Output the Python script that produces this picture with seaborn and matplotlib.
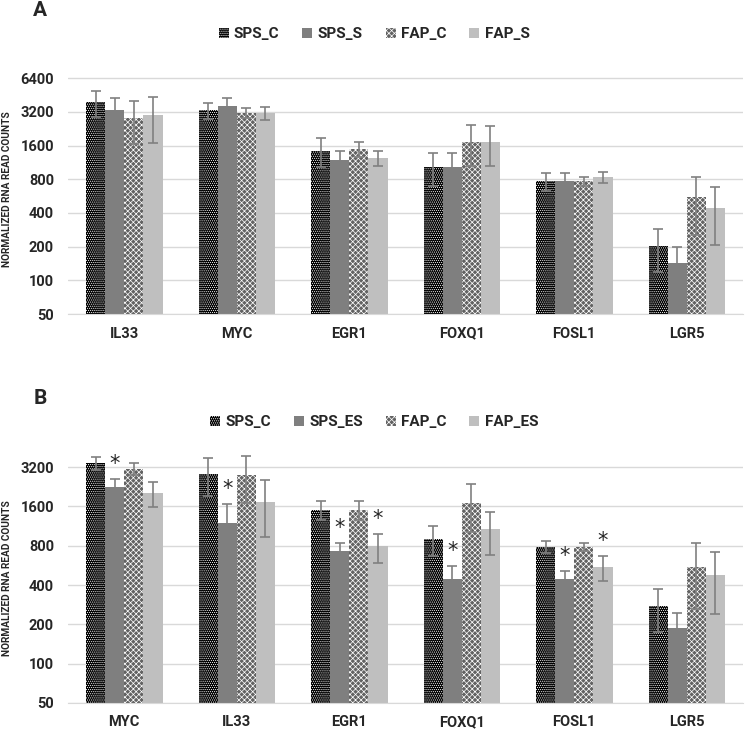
import numpy as np
import pandas as pd
import seaborn as sns
import matplotlib
matplotlib.use('Agg')
from matplotlib import pyplot as plt
from matplotlib.patches import Patch
from matplotlib.ticker import FixedLocator, FixedFormatter, NullLocator

# panel A data
genes_a = ['IL33', 'MYC', 'EGR1', 'FOXQ1', 'FOSL1', 'LGR5']
groups_a = ['SPS_C', 'SPS_S', 'FAP_C', 'FAP_S']
sps_c_a = [3900, 3330, 1440, 1040, 770, 204]
sps_c_a_err = [1030, 540, 415, 345, 145, 86]
sps_s_a = [3330, 3620, 1200, 1020, 770, 142]
sps_s_a_err = [920, 630, 220, 350, 145, 58]
fap_c_a = [2840, 3135, 1505, 1740, 770, 550]
fap_c_a_err = [1180, 330, 235, 680, 75, 295]
fap_s_a = [3010, 3135, 1250, 1720, 830, 446]
fap_s_a_err = [1310, 440, 190, 660, 90, 240]
ticks_a = [50, 100, 200, 400, 800, 1600, 3200, 6400]

# panel B data
genes_b = ['MYC', 'IL33', 'EGR1', 'FOXQ1', 'FOSL1', 'LGR5']
groups_b = ['SPS_C', 'SPS_ES', 'FAP_C', 'FAP_ES']
sps_c_b = [3430, 2840, 1500, 900, 783, 275]
sps_c_b_err = [390, 920, 250, 230, 85, 100]
sps_es_b = [2250, 1190, 726, 445, 445, 188]
sps_es_b_err = [350, 480, 115, 115, 65, 57]
fap_c_b = [3110, 2790, 1500, 1690, 783, 550]
fap_c_b_err = [320, 1100, 250, 680, 60, 290]
fap_es_b = [2020, 1730, 790, 1070, 550, 475]
fap_es_b_err = [430, 800, 200, 390, 120, 235]
star_sps_es = [1, 1, 1, 1, 1, 0]
star_fap_es = [0, 0, 1, 0, 1, 0]
ticks_b = [50, 100, 200, 400, 800, 1600, 3200]

sns.set_style('white')
plt.rcParams['font.family'] = ['Roboto', 'DejaVu Sans']
plt.rcParams['font.weight'] = 'bold'
plt.rcParams['hatch.linewidth'] = 0.5

fills = ['#000000', '#7f7f7f', '#626262', '#bfbfbf']
hatches = ['........', None, 'xxxxxx', None]


def panel(ax, genes, groups, vals, errs, ticks, top, stars=None):
    df = pd.DataFrame({
        'gene': np.repeat(genes, len(groups)),
        'group': groups * len(genes),
        'value': np.array(vals).T.ravel(),
    })
    ax.set_yscale('log', base=2)
    sns.barplot(data=df, x='gene', y='value', hue='group', order=genes,
                hue_order=groups, palette=fills, width=0.68, gap=0,
                errorbar=None, saturation=1, legend=False, ax=ax)
    bar_sets = list(ax.containers)
    for i, cont in enumerate(bar_sets):
        xs = [b.get_x() + b.get_width() / 2 for b in cont]
        for b in cont:
            b.set_linewidth(0)
            if hatches[i]:
                b.set_hatch(hatches[i])
                b.set_edgecolor('white')
        ax.errorbar(xs, vals[i], yerr=errs[i], fmt='none', ecolor='#808080',
                    elinewidth=1.2, capsize=3.5, capthick=1.2, zorder=5)
        if stars is not None and stars[i] is not None:
            for x, v, e, s in zip(xs, vals[i], errs[i], stars[i]):
                if s:
                    ax.text(x, (v + e) * 1.3, '*', ha='center', va='center',
                            fontsize=15, fontweight='normal', family='DejaVu Sans')
    ax.set_ylim(50, top)
    ax.set_xlim(-0.5, 5.5)
    ax.yaxis.set_major_locator(FixedLocator(ticks))
    ax.yaxis.set_major_formatter(FixedFormatter([str(t) for t in ticks]))
    ax.yaxis.set_minor_locator(NullLocator())
    ax.grid(axis='y', color='#d9d9d9', lw=1)
    ax.set_axisbelow(True)
    for s in ['top', 'right', 'left']:
        ax.spines[s].set_visible(False)
    ax.spines['bottom'].set_color('#d9d9d9')
    ax.tick_params(axis='both', length=0, labelsize=10.5, pad=10)
    ax.tick_params(axis='x', pad=9)
    ax.set_xlabel('')
    ax.set_ylabel('NORMALIZED RNA READ COUNTS', fontsize=7.3, fontweight='bold')
    for lab in ax.get_xticklabels() + ax.get_yticklabels():
        lab.set_fontweight('bold')


fig = plt.figure(figsize=(7.48, 7.30), dpi=100)
ax_a = fig.add_axes([68 / 748, 1 - 314 / 730, 675 / 748, 249 / 730])
ax_b = fig.add_axes([68 / 748, 1 - 703 / 730, 675 / 748, 250 / 730])

panel(ax_a, genes_a, groups_a,
      [sps_c_a, sps_s_a, fap_c_a, fap_s_a],
      [sps_c_a_err, sps_s_a_err, fap_c_a_err, fap_s_a_err],
      ticks_a, 8400)
panel(ax_b, genes_b, groups_b,
      [sps_c_b, sps_es_b, fap_c_b, fap_es_b],
      [sps_c_b_err, sps_es_b_err, fap_c_b_err, fap_es_b_err],
      ticks_b, 4100, stars=[None, star_sps_es, None, star_fap_es])

ax_a.yaxis.set_label_coords(-0.083, 0.5)
ax_b.yaxis.set_label_coords(-0.083, 0.5)

for groups, ypix in ((groups_a, 34), (groups_b, 422)):
    handles = [Patch(facecolor=fills[i], hatch=hatches[i],
                     edgecolor='white' if hatches[i] else fills[i], lw=0, label=g)
               for i, g in enumerate(groups)]
    fig.legend(handles=handles, loc='center', bbox_to_anchor=(0.5, 1 - ypix / 730),
               ncol=4, frameon=False, handlelength=0.65, handleheight=0.65,
               handletextpad=0.35, columnspacing=1.5,
               prop={'size': 11, 'weight': 'bold'})

fig.text(40 / 748, 1 - 11 / 730, 'A', fontsize=15, fontweight='bold', ha='center', va='center')
fig.text(40 / 748, 1 - 398 / 730, 'B', fontsize=15, fontweight='bold', ha='center', va='center')

fig.savefig('out.png', dpi=100)
